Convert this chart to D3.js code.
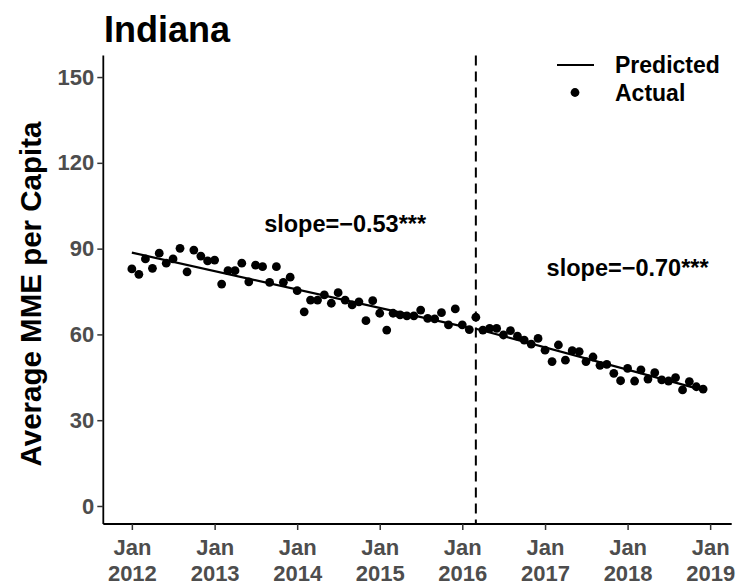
<!DOCTYPE html>
<html>
<head>
<meta charset="utf-8">
<script src="https://cdn.jsdelivr.net/npm/d3@7"></script>
<style>
  body { margin: 0; background: #fff; }
  text { font-family: "Liberation Sans", Arial, sans-serif; font-weight: bold; }
</style>
</head>
<body>
<svg id="chart" width="751" height="588"></svg>
<script>
// monthly actual values, Jan 2012 .. Dec 2018
const actual2012 = [82.9, 81.0, 86.4, 83.1, 88.4, 84.9, 86.4, 90.1, 81.9, 89.5, 87.4, 85.7];
const actual2013 = [86.0, 77.6, 82.3, 82.3, 84.9, 78.4, 84.2, 83.7, 78.2, 83.7, 78.2, 80.0];
const actual2014 = [75.3, 67.9, 72.0, 72.0, 73.8, 70.9, 74.6, 72.0, 70.3, 71.4, 64.8, 71.8];
const actual2015 = [67.4, 61.5, 67.4, 66.8, 66.5, 66.5, 68.5, 65.6, 65.4, 67.6, 63.3, 68.9];
const actual2016 = [63.3, 61.7, 66.0, 61.5, 62.1, 62.1, 59.8, 61.3, 59.4, 58.0, 56.6, 58.6];
const actual2017 = [54.5, 50.5, 56.3, 51.0, 54.3, 54.0, 50.5, 52.1, 49.2, 49.5, 46.4, 43.8];
const actual2018 = [48.1, 43.7, 47.6, 44.4, 46.6, 44.1, 43.7, 44.9, 40.6, 43.5, 41.7, 40.9];
const years = [2012, 2013, 2014, 2015, 2016, 2017, 2018];

// predicted trend segments (before / after the break)
const predDates1 = ["2012-01-01", "2016-02-01"];
const predValues1 = [88.6, 62.3];
const predDates2 = ["2016-03-01", "2018-12-01"];
const predValues2 = [62.0, 40.5];
const breakDate = "2016-03-01";

const slopeLabels = ["slope=\u22120.53***", "slope=\u22120.70***"];
const slopeDates = ["2014-08-01", "2018-01-01"];
const slopeValues = [95.8, 80.4];

const yTicks = [0, 30, 60, 90, 120, 150];
const xTickYears = [2012, 2013, 2014, 2015, 2016, 2017, 2018, 2019];

const allActual = [actual2012, actual2013, actual2014, actual2015, actual2016, actual2017, actual2018];
const points = [];
allActual.forEach((arr, yi) => {
  arr.forEach((v, m) => points.push({ date: new Date(years[yi], m, 1), value: v }));
});

const svg = d3.select("#chart");

const mLeft = 103.3, mRight = 731.7, mTop = 55.6, mBottom = 524;

const d0 = new Date(2012, 0, 1), d1 = new Date(2018, 11, 1);
const span = d1 - d0;
const x = d3.scaleTime()
  .domain([new Date(+d0 - 0.05 * span), new Date(+d1 + 0.05 * span)])
  .range([mLeft, mRight]);

const y = d3.scaleLinear()
  .domain([-6.3, 157.5])
  .range([mBottom, mTop]);

const parse = d3.timeParse("%Y-%m-%d");

// dashed break line
svg.append("line")
  .attr("x1", x(parse(breakDate)))
  .attr("x2", x(parse(breakDate)))
  .attr("y1", mTop)
  .attr("y2", mBottom)
  .attr("stroke", "#000")
  .attr("stroke-width", 2)
  .attr("stroke-dasharray", "10,6");

// points
svg.append("g")
  .selectAll("circle")
  .data(points)
  .enter()
  .append("circle")
  .attr("cx", (d) => x(d.date))
  .attr("cy", (d) => y(d.value))
  .attr("r", 4.4)
  .attr("fill", "#000");

// predicted lines
const line = d3.line()
  .x((d) => x(d.date))
  .y((d) => y(d.value));

[[predDates1, predValues1], [predDates2, predValues2]].forEach(([ds, vs]) => {
  svg.append("path")
    .datum(ds.map((d, i) => ({ date: parse(d), value: vs[i] })))
    .attr("d", line)
    .attr("fill", "none")
    .attr("stroke", "#000")
    .attr("stroke-width", 2.2);
});

// slope annotations
slopeLabels.forEach((s, i) => {
  svg.append("text")
    .attr("x", x(parse(slopeDates[i])))
    .attr("y", y(slopeValues[i]))
    .attr("text-anchor", "middle")
    .attr("font-size", 23.5)
    .attr("fill", "#000")
    .text(s);
});

// y axis
const yAxis = svg.append("g").attr("transform", "translate(" + mLeft + ",0)")
  .call(d3.axisLeft(y).tickValues(yTicks).tickSize(6).tickPadding(3));
yAxis.select(".domain").attr("stroke", "#000").attr("stroke-width", 1.8)
  .attr("d", "M0," + mTop + "V" + mBottom);
yAxis.selectAll(".tick line").attr("stroke", "#333").attr("stroke-width", 1.5);
yAxis.selectAll(".tick text")
  .attr("font-size", 22)
  .attr("fill", "#4d4d4d")
  .attr("font-family", "Liberation Sans, Arial, sans-serif")
  .attr("font-weight", "bold");

// x axis
const xAxis = svg.append("g").attr("transform", "translate(0," + mBottom + ")")
  .call(d3.axisBottom(x).tickValues(xTickYears.map((yy) => new Date(yy, 0, 1))).tickSize(6).tickFormat(""));
xAxis.select(".domain").attr("stroke", "#000").attr("stroke-width", 1.8)
  .attr("d", "M" + mLeft + ",0H" + mRight);
xAxis.selectAll(".tick line").attr("stroke", "#333").attr("stroke-width", 1.5);
xAxis.selectAll(".tick").each(function (d) {
  const t = d3.select(this).select("text")
    .attr("font-size", 22)
    .attr("fill", "#4d4d4d")
    .attr("font-family", "Liberation Sans, Arial, sans-serif")
    .attr("font-weight", "bold")
    .attr("y", 0)
    .attr("dy", null);
  t.append("tspan").attr("x", 0).attr("y", 31).text("Jan");
  t.append("tspan").attr("x", 0).attr("y", 57).text(d.getFullYear());
});

// y axis title
svg.append("text")
  .attr("transform", "translate(41,294) rotate(-90)")
  .attr("text-anchor", "middle")
  .attr("font-size", 29.5)
  .attr("fill", "#000")
  .text("Average MME per Capita");

// title
svg.append("text")
  .attr("x", 104)
  .attr("y", 42)
  .attr("font-size", 36)
  .attr("fill", "#000")
  .text("Indiana");

// legend
const legend = svg.append("g");
legend.append("line")
  .attr("x1", 557).attr("x2", 594)
  .attr("y1", 65).attr("y2", 65)
  .attr("stroke", "#000").attr("stroke-width", 2.2);
legend.append("circle")
  .attr("cx", 575).attr("cy", 92.5).attr("r", 4.4).attr("fill", "#000");
legend.append("text").attr("x", 615).attr("y", 73).attr("font-size", 23).text("Predicted");
legend.append("text").attr("x", 615).attr("y", 101).attr("font-size", 23).text("Actual");
</script>
</body>
</html>
